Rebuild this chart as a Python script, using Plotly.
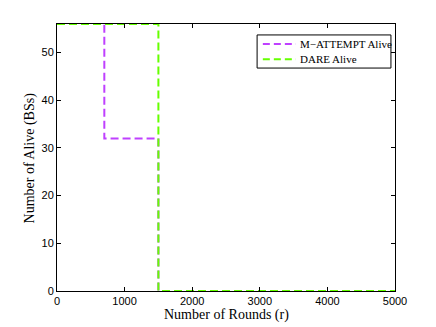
import plotly.graph_objects as go

# step data
rounds_mattempt = [0, 700, 700, 1500, 1500, 5000]
alive_mattempt = [56, 56, 32, 32, 0, 0]

rounds_dare = [0, 1500, 1500, 5000]
alive_dare = [56, 56, 0, 0]

x_ticks = [0, 1000, 2000, 3000, 4000, 5000]
y_ticks = [0, 10, 20, 30, 40, 50]

series_names = ["M\u2212ATTEMPT Alive", "DARE Alive"]
series_colors = ["#bf40ff", "#66ff00"]

fig = go.Figure()
fig.add_trace(go.Scatter(x=rounds_mattempt, y=alive_mattempt, mode="lines", name=series_names[0],
                         line=dict(color=series_colors[0], width=2, dash="8px,4px")))
fig.add_trace(go.Scatter(x=rounds_dare, y=alive_dare, mode="lines", name=series_names[1],
                         line=dict(color=series_colors[1], width=2, dash="8px,4px")))

axis_common = dict(showline=True, linecolor="black", linewidth=1, mirror="ticks", ticks="inside",
                   ticklen=4, tickcolor="black", showgrid=False, zeroline=False, automargin=False,
                   tickfont=dict(family="Liberation Sans, Arial", size=11, color="black"))
title_font = dict(family="Liberation Serif, Times New Roman", size=14, color="black")

# page body has an 8px margin, so the figure is a bit smaller than the window
fig.update_layout(
    width=428, height=319,
    margin=dict(l=49, r=41, t=16, b=36),
    paper_bgcolor="white", plot_bgcolor="white",
    xaxis=dict(range=[0, 5000], tickvals=x_ticks, **axis_common),
    yaxis=dict(range=[0, 56], tickvals=y_ticks, **axis_common),
    showlegend=False,
)

# axis titles as annotations for exact placement
fig.add_annotation(x=0.5, y=-0.09, xref="paper", yref="paper", text="Number of Rounds (r)",
                   showarrow=False, xanchor="center", yanchor="middle", font=title_font)
fig.add_annotation(x=-0.08, y=0.5, xref="paper", yref="paper", text="Number of Alive (BSs)",
                   showarrow=False, xanchor="center", yanchor="middle", textangle=-90, font=title_font)

# legend box drawn by hand (MATLAB style, tight rows)
fig.add_shape(type="rect", xref="paper", yref="paper", x0=0.592, x1=0.988, y0=0.835, y1=0.959,
              line=dict(color="black", width=1), fillcolor="white", layer="above")
for i, (name, color) in enumerate(zip(series_names, series_colors)):
    yy = 0.925 - i * 0.057
    fig.add_shape(type="line", xref="paper", yref="paper", x0=0.609, x1=0.707, y0=yy, y1=yy,
                  line=dict(color=color, width=2, dash="7px,4px"), layer="above")
    fig.add_annotation(x=0.713, y=yy, xref="paper", yref="paper", text=name, showarrow=False,
                       xanchor="left", yanchor="middle",
                       font=dict(family="Liberation Serif, Times New Roman", size=11, color="black"))

fig.write_html("out.html")
